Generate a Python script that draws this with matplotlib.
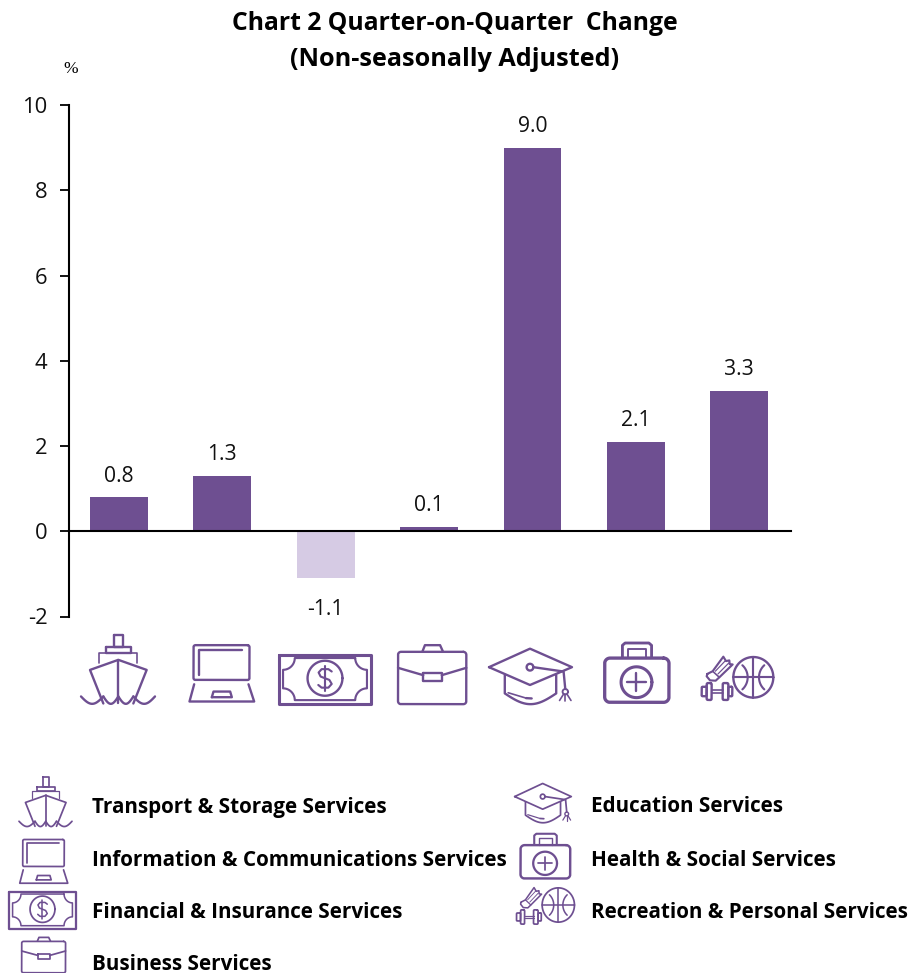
import numpy as np
import matplotlib
matplotlib.use("Agg")
import matplotlib.pyplot as plt

values = [0.8, 1.3, -1.1, 0.1, 9.0, 2.1, 3.3]
value_labels = ["0.8", "1.3", "-1.1", "0.1", "9.0", "2.1", "3.3"]
yticks = [-2, 0, 2, 4, 6, 8, 10]
legend_left = ["Transport & Storage Services", "Information & Communications Services",
               "Financial & Insurance Services", "Business Services"]
legend_right = ["Education Services", "Health & Social Services", "Recreation & Personal Services"]

DARK = "#6E4F91"
LIGHT = "#D6CBE4"
W, H = 912, 973
FONT = "Open Sans"

plt.rcParams["font.family"] = FONT
plt.rcParams["axes.unicode_minus"] = False
fig = plt.figure(figsize=(W / 100, H / 100), dpi=100, facecolor="white")


def rect(l, t, r, b):
    return [l / W, 1 - b / H, (r - l) / W, (b - t) / H]


ax = fig.add_axes(rect(69, 105, 791, 616.5))
ax.set_xlim(-0.484, 6.5)
ax.set_ylim(-2, 10)
cols = [DARK if v >= 0 else LIGHT for v in values]
ax.bar(range(len(values)), values, width=0.56, color=cols, zorder=2)
for i, (v, s) in enumerate(zip(values, value_labels)):
    ax.annotate(s, (i, v), xytext=(0, 15.2 if v >= 0 else -22.8), textcoords="offset points",
                ha="center", va="center", fontsize=15.2, color="#111111", family=FONT)
for s in ("top", "right"):
    ax.spines[s].set_visible(False)
ax.spines["bottom"].set_position(("data", 0))
ax.spines["bottom"].set_linewidth(1.5)
ax.spines["left"].set_linewidth(1.5)
ax.set_xticks([])
ax.set_yticks(yticks)
ax.tick_params(axis="y", length=6.5, width=1.3, pad=9, labelsize=15.8, labelcolor="#111111")

fig.text(454.5 / W, 1 - 23 / H, "Chart 2 Quarter-on-Quarter  Change", ha="center", va="center",
         fontsize=17.8, fontweight="bold", family=FONT, color="black")
fig.text(454.5 / W, 1 - 59 / H, "(Non-seasonally Adjusted)", ha="center", va="center",
         fontsize=18.2, fontweight="bold", family=FONT, color="black")
fig.text(71 / W, 1 - 69 / H, "%", ha="center", va="center", fontsize=12.5,
         family="Liberation Serif", color="black")

for s, y in zip(legend_left, [807, 860, 912, 964]):
    fig.text(92 / W, 1 - y / H, s, ha="left", va="center", fontsize=14.85, fontweight="bold",
             family=FONT, color="black")
for s, y in zip(legend_right, [807, 860, 912]):
    fig.text(591 / W, 1 - y / H, s, ha="left", va="center", fontsize=14.85, fontweight="bold",
             family=FONT, color="black")

# overlay in pixel coordinates for the pictograms
ov = fig.add_axes([0, 0, 1, 1], facecolor="none")
ov.set_xlim(0, W)
ov.set_ylim(H, 0)
ov.axis("off")


def ell(cx, cy, r, ry=None, a0=0, a1=360):
    ry = r if ry is None else ry
    t = np.radians(np.linspace(a0, a1, 61))
    return list(zip(cx + r * np.cos(t), cy + ry * np.sin(t)))


def rrect(l, t, r, b, c):
    p = []
    p += ell(r - c, t + c, c, c, -90, 0)
    p += ell(r - c, b - c, c, c, 0, 90)
    p += ell(l + c, b - c, c, c, 90, 180)
    p += ell(l + c, t + c, c, c, 180, 270)
    p.append(p[0])
    return p


def box(l, t, r, b):
    return [(l, t), (r, t), (r, b), (l, b), (l, t)]


def ship():
    out = [(box(132, 30, 158, 68), 1), (box(108, 68, 182, 85), 1),
           ([(88, 115), (88, 85), (200, 85), (200, 115)], .7),
           ([(100, 235), (60, 135), (145, 105), (230, 135), (190, 235)], 1),
           ([(145, 105), (145, 235)], 1)]
    for x0, x1 in [(33, 100), (100, 145), (145, 190), (190, 255)]:
        xs = np.linspace(x0, x1, 30)
        d = 22
        out.append((list(zip(xs, 214 + d * np.sin(np.pi * (xs - x0) / (x1 - x0)))), 1))
    return out


def laptop():
    return [(rrect(370, 60, 538, 165, 6), 1),
            ([(388, 150), (388, 75), (515, 75)], 1),
            ([(372, 178), (358, 230), (552, 230), (535, 178)], 1),
            ([(425, 217), (430, 200), (480, 200), (485, 217), (425, 217)], 1)]


def money():
    inner = []
    inner += ell(890, 100, 35, 35, 180, 90)
    inner += ell(890, 225, 35, 35, 270, 180)
    inner += ell(640, 225, 35, 35, 0, -90)
    inner += ell(640, 100, 35, 35, 90, 0)
    inner.append(inner[0])
    return [(box(627, 90, 903, 237), 1.3), (inner, .9), (ell(765, 160, 52), 1),
            ([(785, 140), (775, 133), (755, 133), (746, 143), (752, 155), (778, 165),
              (785, 177), (775, 188), (755, 188), (745, 180)], .9),
            ([(765, 123), (765, 198)], .9)]


def brief():
    return [(rrect(985, 80, 1188, 237, 9), 1),
            ([(985, 128), (1060, 150)], 1), ([(1115, 150), (1188, 128)], 1),
            (box(1060, 142, 1115, 168), 1),
            ([(1058, 78), (1065, 60), (1110, 60), (1118, 78)], 1)]


def cap():
    tassel = ell(255, 200, 8)
    return [([(28, 127), (150, 72), (275, 127), (150, 180), (28, 127)], 1),
            ([(75, 150), (75, 205)] + list(zip(np.linspace(75, 228, 30),
             205 + 32 * np.sin(np.pi * np.linspace(0, 1, 30)))) + [(228, 150)], 1),
            (ell(150, 127, 10), 1),
            ([(160, 127), (250, 140), (255, 192)], 1), (tassel, .8),
            ([(250, 207), (238, 226)], .7), ([(260, 207), (272, 226)], .7), ([(255, 208), (255, 228)], .7),
            ([(85, 203), (135, 218)], .7), ([(138, 219), (155, 220)], 1)]


def kit():
    return [(rrect(375, 100, 567, 232, 16), 1.4),
            ([(428, 98), (428, 62), (436, 55), (507, 55), (515, 62), (515, 98)], 1.2),
            ([(445, 98), (445, 72), (498, 72), (498, 98)], .8),
            (ell(470, 172, 46), 1.3),
            ([(443, 172), (497, 172)], 1), ([(470, 145), (470, 199)], 1)]


def rec():
    out = [(ell(820, 158, 60), 1), ([(820, 98), (820, 218)], .9), ([(760, 158), (880, 158)], .9),
           (ell(755, 158, 48, 48, -48, 48), .9), (ell(885, 158, 48, 48, 132, 228), .9)]
    out += [([(682, 148), (698, 140), (730, 97), (738, 110), (748, 108), (749, 119), (758, 120),
              (718, 158), (707, 168), (690, 167), (680, 155), (682, 148)], .9),
            ([(698, 140), (718, 158)], .7),
            ([(706, 140), (737, 108)], .5), ([(714, 148), (746, 116)], .5),
            (rrect(680, 175, 695, 225, 4), 1), (rrect(728, 175, 745, 225, 4), 1),
            (rrect(665, 186, 680, 214, 3), 1), (rrect(745, 186, 757, 214, 3), 1),
            ([(695, 195), (728, 195)], .7), ([(695, 205), (728, 205)], .7)]
    return out


def place(fn, src, dst, lw):
    sx0, sy0, sx1, sy1 = src
    dx0, dy0, dx1, dy1 = dst
    for pts, w in fn():
        a = np.array(pts, dtype=float)
        xs = dx0 + (a[:, 0] - sx0) * (dx1 - dx0) / (sx1 - sx0)
        ys = dy0 + (a[:, 1] - sy0) * (dy1 - dy0) / (sy1 - sy0)
        ov.plot(xs, ys, color=DARK, lw=lw * w, solid_joinstyle="round", solid_capstyle="round")


icons = [
    (ship, (33, 28, 255, 238), (81, 634, 155, 704.5), (19, 777, 72, 827)),
    (laptop, (355, 58, 553, 233), (188.5, 644.5, 254.5, 702.5), (19, 839, 68, 884)),
    (money, (625, 88, 905, 238), (278, 654, 372, 704.5), (9, 891, 76, 929)),
    (brief, (982, 58, 1190, 238), (397, 644.5, 467, 704.5), (21, 937, 66, 973)),
    (cap, (25, 70, 278, 238), (488, 648, 573, 704.5), (514, 783, 572, 823)),
    (kit, (373, 52, 570, 234), (604, 642, 670, 703), (520, 833, 571, 879)),
    (rec, (663, 95, 882, 228), (701, 656, 774, 701), (516, 887, 575, 925)),
]
for fn, src, chart_box, leg_box in icons:
    place(fn, src, chart_box, 1.7)
    place(fn, src, leg_box, 1.25)

fig.savefig("out.png", dpi=100, facecolor="white")
